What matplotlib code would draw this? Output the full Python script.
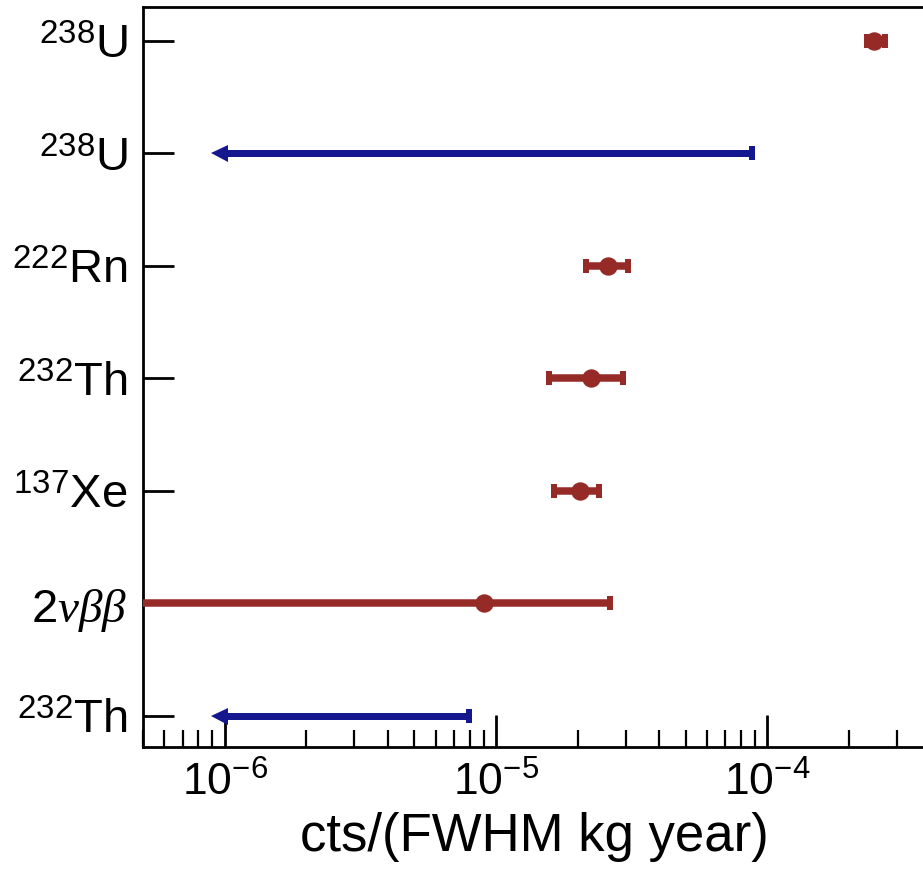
import numpy as np
import matplotlib
matplotlib.use("Agg")
import matplotlib.pyplot as plt

plt.rcParams['font.family'] = ['Liberation Sans', 'DejaVu Sans']
plt.rcParams['mathtext.fontset'] = 'custom'
plt.rcParams['mathtext.rm'] = 'Liberation Sans'
plt.rcParams['mathtext.it'] = 'Liberation Serif:italic'
plt.rcParams['mathtext.bf'] = 'Liberation Sans:bold'

# rows, bottom to top
row_labels = [r"$^{232}$Th", r"2$\nu\beta\beta$", r"$^{137}$Xe", r"$^{232}$Th",
              r"$^{222}$Rn", r"$^{238}$U", r"$^{238}$U"]

# measured contributions (cts/(FWHM kg year))
meas_rows = [1, 2, 3, 4, 6]
meas_val = [9.03e-6, 2.03e-5, 2.24e-5, 2.59e-5, 2.47e-4]
meas_lo = [1e-8, 1.64e-5, 1.57e-5, 2.15e-5, 2.33e-4]
meas_hi = [2.62e-5, 2.40e-5, 2.94e-5, 3.06e-5, 2.71e-4]

# upper limits
lim_rows = [0, 5]
lim_val = [7.95e-6, 8.79e-5]
lim_arrow_end = [9.5e-7, 9.5e-7]

red = '#962a26'
blue = '#15178f'

px = 72.0 / 100  # points per pixel at dpi 100

fig = plt.figure(figsize=(9.23, 8.70), dpi=100)
ax = fig.add_axes([143 / 923, 1 - 748 / 870, 1 - 143 / 923 + 0.002, (748 - 8) / 870])

meas_val = np.array(meas_val)
xerr = [meas_val - np.array(meas_lo), np.array(meas_hi) - meas_val]
ax.errorbar(meas_val, meas_rows, xerr=xerr, fmt='o', color=red, ms=17 * px,
            elinewidth=7.5 * px, capsize=7 * px, capthick=6 * px, zorder=3)

for y, v, e in zip(lim_rows, lim_val, lim_arrow_end):
    ax.plot([e, v], [y, y], color=blue, lw=7 * px, solid_capstyle='butt', zorder=3)
    ax.plot([v], [y], marker='|', color=blue, ms=14 * px, mew=6 * px, zorder=3)
    ax.plot([e], [y], marker='<', color=blue, ms=17 * px, mew=0, zorder=3)

ax.set_xscale('log')
ax.set_xlim(5e-7, 3.8e-4)
ax.set_ylim(-0.28, 6.30)

ax.set_yticks(range(len(row_labels)))
ax.set_yticklabels(row_labels)
ax.xaxis.set_minor_locator(matplotlib.ticker.LogLocator(base=10, subs=np.arange(2, 10), numticks=20))
ax.yaxis.set_minor_locator(matplotlib.ticker.NullLocator())

ax.tick_params(axis='y', which='major', direction='in', length=22, width=2, labelsize=34, pad=11)
ax.tick_params(axis='x', which='major', direction='in', length=23, width=2, labelsize=32, pad=10)
ax.tick_params(axis='x', which='minor', direction='in', length=12, width=1.6)

for s in ['left', 'bottom', 'top']:
    ax.spines[s].set_linewidth(2)
ax.spines['right'].set_visible(False)

ax.set_xlabel('cts/(FWHM kg year)', fontsize=38, labelpad=5)

fig.savefig('out.png', dpi=100)
